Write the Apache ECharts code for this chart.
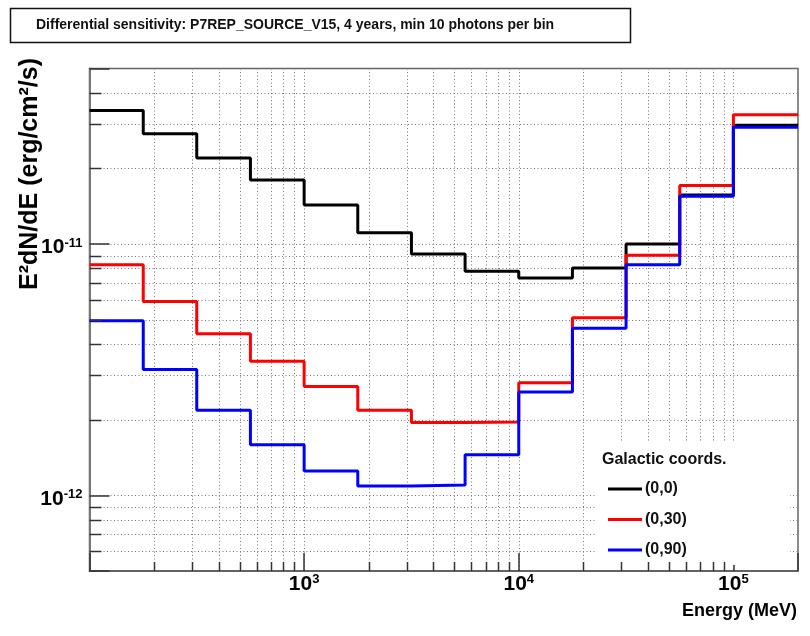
<!DOCTYPE html>
<html>
<head>
<meta charset="UTF-8">
<title>Differential sensitivity</title>
<script src="https://cdn.jsdelivr.net/npm/echarts@6/dist/echarts.min.js"></script>
<style>
    body { margin: 0; background: #fff; }
    #chart { width: 810px; height: 636px; }
</style>
</head>
<body>
<div id="chart"></div>
<script>
    // bin edges (MeV), 4 bins per decade; last value is the right end of the frame
    var edges = [100, 178, 316, 562, 1000, 1778, 3162, 5623, 10000, 17783, 31623, 56234, 100000, 200000];

    // E^2 dN/dE per bin (erg/cm^2/s)
    var sens00 = [3.40e-11, 2.75e-11, 2.20e-11, 1.80e-11, 1.43e-11, 1.11e-11, 9.13e-12, 7.79e-12, 7.33e-12, 8.03e-12, 1.00e-11, 1.57e-11, 2.97e-11];
    var sens030 = [8.28e-12, 5.91e-12, 4.40e-12, 3.42e-12, 2.71e-12, 2.18e-12, 1.95e-12, 1.96e-12, 2.81e-12, 5.09e-12, 9.04e-12, 1.71e-11, 3.27e-11];
    var sens090 = [4.95e-12, 3.17e-12, 2.18e-12, 1.59e-12, 1.25e-12, 1.09e-12, 1.10e-12, 1.45e-12, 2.58e-12, 4.63e-12, 8.28e-12, 1.55e-11, 2.92e-11];

    var seriesNames = ['(0,0)', '(0,30)', '(0,90)'];
    var seriesColors = ['#000000', '#ff0000', '#0000ff'];

    // axis ranges and grid positions
    var xMin = 100, xMax = 200000;
    var yMin = 5e-13, yMax = 5e-11;
    var xMajor = [1000, 10000, 100000];
    var xMinor = [200, 300, 400, 500, 600, 700, 800, 900,
                  2000, 3000, 4000, 5000, 6000, 7000, 8000, 9000,
                  20000, 30000, 40000, 50000, 60000, 70000, 80000, 90000];
    var yMajor = [1e-12, 1e-11];
    var yMinor = [6e-13, 7e-13, 8e-13, 9e-13,
                  2e-12, 3e-12, 4e-12, 5e-12, 6e-12, 7e-12, 8e-12, 9e-12,
                  2e-11, 3e-11, 4e-11];

    var FONT = 'Liberation Sans, Arial, sans-serif';
    var L = 89.5, R = 798, T = 68.5, B = 571;

    function stepData(vals) {
        var d = [];
        for (var i = 0; i < vals.length; i++) d.push([edges[i], vals[i]]);
        d.push([edges[edges.length - 1], vals[vals.length - 1]]);
        return d;
    }

    function powLabel(v, lo, hi) {
        var e = Math.log(v) / Math.LN10;
        var n = Math.round(e);
        if (Math.abs(e - n) > 1e-6 || n < lo || n > hi) return '';
        return '{b|10}{s|' + n + '}';
    }

    var richLbl = {
        b: { fontSize: 21, fontWeight: 'bold', fontFamily: FONT, color: '#000', lineHeight: 22 },
        s: { fontSize: 13, fontWeight: 'bold', fontFamily: FONT, color: '#000', verticalAlign: 'top', lineHeight: 12 }
    };

    var allData = [sens00, sens030, sens090];
    var series = allData.map(function (vals, i) {
        return {
            name: seriesNames[i],
            type: 'line',
            step: 'end',
            data: stepData(vals),
            showSymbol: false,
            symbol: 'none',
            color: seriesColors[i],
            lineStyle: { color: seriesColors[i], width: 3 },
            z: 3 + i
        };
    });

    var chart = echarts.init(document.getElementById('chart'));
    var option = {
        animation: false,
        backgroundColor: '#fff',
        grid: {
            left: L, right: 810 - R, top: T, bottom: 636 - B,
            show: true, borderColor: '#666', borderWidth: 1.5, backgroundColor: 'transparent'
        },
        legend: {
            data: seriesNames,
            orient: 'vertical',
            left: 603, top: 476,
            icon: 'rect',
            itemWidth: 34, itemHeight: 3,
            itemGap: 14.5,
            textStyle: { fontSize: 16, fontWeight: 'bold', fontFamily: FONT, color: '#111', padding: [0, 0, 0, -2] }
        },
        xAxis: {
            type: 'log', logBase: 10, min: xMin, max: xMax,
            axisLine: { lineStyle: { color: '#555', width: 1.5 } },
            axisTick: { inside: true, length: 18, lineStyle: { color: '#333', width: 1.5 } },
            axisLabel: {
                margin: 2,
                formatter: function (v) { return powLabel(v, 3, 5); },
                rich: richLbl
            },
            splitLine: { show: false }
        },
        yAxis: {
            type: 'log', logBase: 10, min: yMin, max: yMax,
            axisLine: { lineStyle: { color: '#777', width: 2 } },
            axisTick: { inside: true, length: 20, lineStyle: { color: '#333', width: 1.5 } },
            axisLabel: {
                margin: 7,
                padding: [7, 0, 0, 0],
                formatter: function (v) { return powLabel(v, -12, -11); },
                rich: richLbl
            },
            splitLine: { show: false }
        },
        series: series
    };
    chart.setOption(option);

    // dotted grid at every decade sub-division, plus the short minor ticks
    var g = [];
    var dotted = { stroke: '#777', lineWidth: 1, lineDash: [1, 2.5] };
    xMajor.concat(xMinor).forEach(function (v) {
        var px = Math.round(chart.convertToPixel({ xAxisIndex: 0 }, v)) + 0.5;
        g.push({ type: 'line', silent: true, z: 0, shape: { x1: px, y1: T, x2: px, y2: B }, style: dotted });
    });
    yMajor.concat(yMinor).forEach(function (v) {
        var py = Math.round(chart.convertToPixel({ yAxisIndex: 0 }, v)) + 0.5;
        g.push({ type: 'line', silent: true, z: 0, shape: { x1: L, y1: py, x2: R, y2: py }, style: dotted });
    });
    // legend box hides the grid behind it
    g.push({ type: 'rect', silent: true, z: 1, shape: { x: 597, y: 442, width: 193, height: 123 }, style: { fill: '#fff' } });
    xMinor.forEach(function (v) {
        var px = Math.round(chart.convertToPixel({ xAxisIndex: 0 }, v)) + 0.5;
        g.push({ type: 'line', silent: true, z: 6, shape: { x1: px, y1: B, x2: px, y2: B - 9 }, style: { stroke: '#333', lineWidth: 1.5 } });
    });
    yMinor.forEach(function (v) {
        var py = Math.round(chart.convertToPixel({ yAxisIndex: 0 }, v)) + 0.5;
        g.push({ type: 'line', silent: true, z: 6, shape: { x1: L, y1: py, x2: L + 12, y2: py }, style: { stroke: '#333', lineWidth: 1.5 } });
    });

    // title box
    g.push({ type: 'rect', silent: true, z: 6, shape: { x: 10.5, y: 8.5, width: 620, height: 34 },
             style: { fill: '#fff', stroke: '#111', lineWidth: 1.5 } });
    g.push({ type: 'text', silent: true, z: 7, x: 36, y: 25.5,
             style: { text: 'Differential sensitivity: P7REP_SOURCE_V15, 4 years, min 10 photons per bin',
                      font: 'bold 14px ' + FONT, fill: '#111', verticalAlign: 'middle' } });

    // axis titles
    g.push({ type: 'text', silent: true, z: 7, x: 797, y: 611,
             style: { text: 'Energy (MeV)', font: 'bold 18px ' + FONT, fill: '#000', align: 'right', verticalAlign: 'middle' } });
    g.push({ type: 'text', silent: true, z: 7, x: 30, y: 58, rotation: Math.PI / 2,
             style: { text: 'E\u00b2dN/dE (erg/cm\u00b2/s)', font: 'bold 25px ' + FONT, fill: '#000', align: 'right', verticalAlign: 'middle' } });

    // legend header
    g.push({ type: 'text', silent: true, z: 7, x: 602, y: 460,
             style: { text: 'Galactic coords.', font: 'bold 16px ' + FONT, fill: '#111', verticalAlign: 'middle' } });

    chart.setOption({ graphic: g });
</script>
</body>
</html>
